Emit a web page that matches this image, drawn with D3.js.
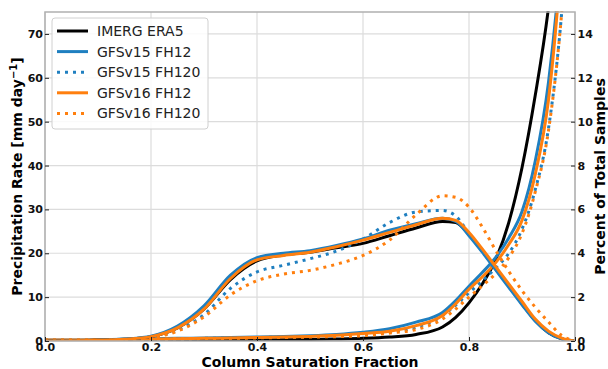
<!DOCTYPE html>
<html>
<head>
<meta charset="utf-8">
<script src="https://cdn.jsdelivr.net/npm/d3@7"></script>
<style>
  body { margin: 0; background: #fff; }
  svg text { font-family: "DejaVu Sans", sans-serif; }
</style>
</head>
<body>
<div class="chart"></div>
<script>
// column saturation fraction bins
const csf = [0, 0.05, 0.1, 0.15, 0.2, 0.25, 0.3, 0.35, 0.4, 0.45, 0.5, 0.55, 0.6, 0.65, 0.7,
             0.75, 0.775, 0.8, 0.825, 0.85, 0.875, 0.9, 0.925, 0.95, 0.975, 1.0];

// precipitation rate (mm/day), left axis
const rateImerg   = [0.1, 0.1, 0.1, 0.1, 0.15, 0.2, 0.2, 0.2, 0.25, 0.3, 0.35, 0.45, 0.6, 0.9, 1.5,
                     3.2, 5.4, 8.7, 13, 18.5, 27, 39.5, 56, 76, 105, 150];
const rateV15fh12 = [0.2, 0.2, 0.3, 0.4, 0.5, 0.6, 0.7, 0.8, 0.9, 1.0, 1.2, 1.5, 2.0, 2.8, 4.3,
                     6.5, 9.2, 12.5, 15.6, 19, 23.5, 29.5, 41, 59, 90, 140];
const rateV15fh120 = [0.2, 0.2, 0.3, 0.35, 0.45, 0.5, 0.6, 0.7, 0.8, 0.9, 1.0, 1.2, 1.5, 2.1, 3.1,
                     5.8, 8.2, 11, 13.7, 16.6, 20, 25.5, 34.5, 48.5, 75, 120];
const rateV16fh12 = [0.2, 0.2, 0.3, 0.35, 0.45, 0.5, 0.6, 0.7, 0.8, 0.9, 1.05, 1.3, 1.7, 2.2, 3.5,
                     5.8, 8.5, 11.8, 14.6, 17.8, 22, 27.5, 38, 55, 88, 135];
const rateV16fh120 = [0.2, 0.2, 0.3, 0.35, 0.4, 0.5, 0.55, 0.6, 0.7, 0.8, 0.9, 1.0, 1.2, 1.8, 2.6,
                     5.0, 7.3, 10, 12.6, 15.3, 19, 24.5, 34, 48, 75, 120];

// percent of total samples, right axis
const pctImerg    = [0, 0.01, 0.03, 0.08, 0.2, 0.6, 1.45, 2.8, 3.65, 3.92, 4.05, 4.25, 4.45, 4.8, 5.15,
                     5.45, 5.4, 4.85, 4.1, 3.3, 2.5, 1.7, 0.93, 0.38, 0.1, 0];
const pctV15fh12  = [0, 0.01, 0.03, 0.09, 0.22, 0.68, 1.6, 3.0, 3.8, 4.0, 4.12, 4.35, 4.65, 5.05, 5.35,
                     5.6, 5.45, 4.8, 4.05, 3.25, 2.45, 1.65, 0.9, 0.38, 0.1, 0];
const pctV15fh120 = [0, 0.01, 0.03, 0.07, 0.17, 0.5, 1.2, 2.4, 3.15, 3.45, 3.75, 4.1, 4.65, 5.4, 5.88,
                     5.95, 5.7, 4.9, 4.15, 3.3, 2.5, 1.7, 0.95, 0.4, 0.12, 0];
const pctV16fh12  = [0, 0.01, 0.03, 0.08, 0.2, 0.6, 1.45, 2.85, 3.7, 3.9, 4.05, 4.3, 4.6, 4.95, 5.3,
                     5.6, 5.5, 4.95, 4.2, 3.4, 2.6, 1.8, 1.0, 0.45, 0.13, 0];
const pctV16fh120 = [0, 0.01, 0.02, 0.06, 0.15, 0.45, 1.1, 2.1, 2.75, 3.05, 3.22, 3.5, 3.9, 4.6, 5.75,
                     6.62, 6.55, 6.1, 5.2, 4.15, 3.18, 2.3, 1.54, 0.87, 0.25, 0];

const seriesNames = ['IMERG ERA5', 'GFSv15 FH12', 'GFSv15 FH120', 'GFSv16 FH12', 'GFSv16 FH120'];
const seriesColors = ['#000000', '#1f7fc0', '#1f7fc0', '#ff7f0e', '#ff7f0e'];
const seriesDotted = [false, false, true, false, true];
const rateSeries = [rateImerg, rateV15fh12, rateV15fh120, rateV16fh12, rateV16fh120];
const pctSeries = [pctImerg, pctV15fh12, pctV15fh120, pctV16fh12, pctV16fh120];

const xTicks = [0, 0.2, 0.4, 0.6, 0.8, 1.0];
const yLeftTicks = [0, 10, 20, 30, 40, 50, 60, 70];
const yRightTicks = [0, 2, 4, 6, 8, 10, 12, 14];

const width = 608, height = 369;
const plotLeft = 45, plotRight = 575, plotTop = 12, plotBottom = 341;

let svg = d3.select('.chart').append('svg').attr('width', width).attr('height', height);

let x = d3.scaleLinear().domain([0, 1]).range([plotLeft, plotRight]);
let yL = d3.scaleLinear().domain([0, 75]).range([plotBottom, plotTop]);
let yR = d3.scaleLinear().domain([0, 15]).range([plotBottom, plotTop]);

// grid
svg.append('g').selectAll('line').data(xTicks).join('line')
    .attr('x1', d => x(d)).attr('x2', d => x(d))
    .attr('y1', plotTop).attr('y2', plotBottom)
    .attr('stroke', '#dcdcdc').attr('stroke-width', 1.2);
svg.append('g').selectAll('line').data(yLeftTicks).join('line')
    .attr('x1', plotLeft).attr('x2', plotRight)
    .attr('y1', d => yL(d)).attr('y2', d => yL(d))
    .attr('stroke', '#dcdcdc').attr('stroke-width', 1.2);

// clip to plot area
svg.append('clipPath').attr('id', 'plotclip')
    .append('rect').attr('x', plotLeft).attr('y', plotTop - 1)
    .attr('width', plotRight - plotLeft).attr('height', plotBottom - plotTop + 1);

let plot = svg.append('g').attr('clip-path', 'url(#plotclip)');

function drawLines(seriesList, yScale){
    seriesList.forEach((vals, i) => {
        let line = d3.line()
            .x((d, j) => x(csf[j]))
            .y(d => yScale(d))
            .curve(d3.curveMonotoneX);
        plot.append('path')
            .attr('d', line(vals))
            .attr('fill', 'none')
            .attr('stroke', seriesColors[i])
            .attr('stroke-width', 3)
            .attr('stroke-dasharray', seriesDotted[i] ? '3,5' : null);
    });
}
drawLines(rateSeries, yL);
drawLines(pctSeries, yR);

// frame
svg.append('rect').attr('x', plotLeft).attr('y', plotTop)
    .attr('width', plotRight - plotLeft).attr('height', plotBottom - plotTop)
    .attr('fill', 'none').attr('stroke', '#b0b0b0').attr('stroke-width', 1.5);

// axes, ticks point into the plot
function styleAxis(g){
    g.select('.domain').remove();
    g.selectAll('.tick line').attr('stroke', '#222').attr('stroke-width', 1);
    g.selectAll('.tick text').attr('font-size', 11).attr('font-weight', 'bold')
        .attr('fill', '#111').attr('font-family', 'DejaVu Sans');
}
svg.append('g').attr('transform', `translate(0,${plotBottom})`)
    .call(d3.axisBottom(x).tickValues(xTicks).tickFormat(d3.format('.1f')).tickSize(-4).tickPadding(2))
    .call(styleAxis);
svg.append('g').attr('transform', `translate(${plotLeft},0)`)
    .call(d3.axisLeft(yL).tickValues(yLeftTicks).tickFormat(d3.format('d')).tickSize(-4).tickPadding(2))
    .call(styleAxis);
svg.append('g').attr('transform', `translate(${plotRight},0)`)
    .call(d3.axisRight(yR).tickValues(yRightTicks).tickFormat(d3.format('d')).tickSize(-4).tickPadding(2.5))
    .call(styleAxis);

// axis labels
svg.append('text')
    .attr('x', (plotLeft + plotRight) / 2).attr('y', 366.5)
    .attr('text-anchor', 'middle').attr('font-size', 14).attr('font-weight', 'bold')
    .text('Column Saturation Fraction');

let ylab = svg.append('text')
    .attr('transform', `translate(22,${(plotTop + plotBottom) / 2}) rotate(-90)`)
    .attr('text-anchor', 'middle').attr('font-size', 14).attr('font-weight', 'bold');
ylab.append('tspan').text('Precipitation Rate [mm day');
ylab.append('tspan').attr('dy', -5).attr('font-size', 10).text('\u22121');
ylab.append('tspan').attr('dy', 5).text(']');

svg.append('text')
    .attr('transform', `translate(605,${(plotTop + plotBottom) / 2}) rotate(-90)`)
    .attr('text-anchor', 'middle').attr('font-size', 14).attr('font-weight', 'bold')
    .text('Percent of Total Samples');

// legend
let legend = svg.append('g');
legend.append('rect').attr('x', 52).attr('y', 18).attr('width', 156).attr('height', 111)
    .attr('rx', 3).attr('fill', 'white').attr('fill-opacity', 0.85)
    .attr('stroke', '#d0d0d0').attr('stroke-width', 1);
seriesNames.forEach((name, i) => {
    let cy = 31 + i * 20.6;
    legend.append('line').attr('x1', 57).attr('x2', 88).attr('y1', cy).attr('y2', cy)
        .attr('stroke', seriesColors[i]).attr('stroke-width', 3)
        .attr('stroke-dasharray', seriesDotted[i] ? '3,5' : null);
    legend.append('text').attr('x', 97).attr('y', cy + 5)
        .attr('font-size', 14).attr('fill', '#222').text(name);
});
</script>
</body>
</html>
